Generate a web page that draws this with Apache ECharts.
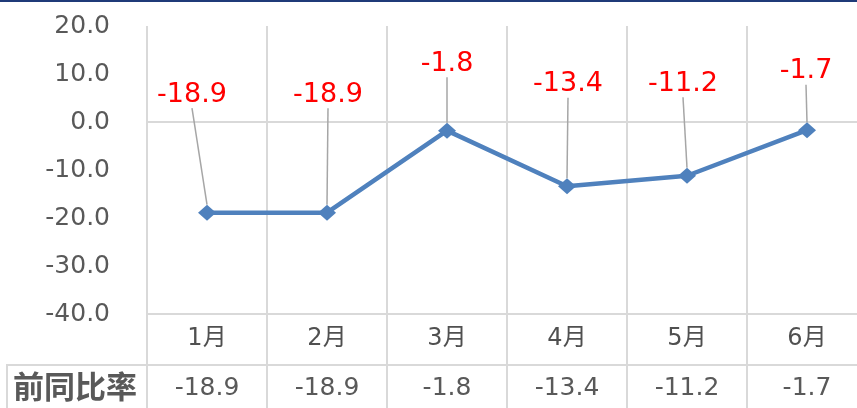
<!DOCTYPE html>
<html>
<head>
<meta charset="utf-8">
<script src="https://cdn.jsdelivr.net/npm/echarts@6/dist/echarts.min.js"></script>
<style>
html,body{margin:0;padding:0;background:#fff;}
#c{width:857px;height:408px;}
</style>
</head>
<body>
<div id="c"></div>
<script>
// ---- data ----
var categories = ['1月', '2月', '3月', '4月', '5月', '6月'];
var values = [-18.9, -18.9, -1.8, -13.4, -11.2, -1.7];
var rowTitle = '前同比率';
var yTicks = [-40, -30, -20, -10, 0, 10, 20];

// label placement (pixel offsets of label centre from the marker)
var labelDx = [-15, 1, 0, 1, -4, -1];
var labelDy = [-118, -118, -67, -102, -92, -59];

var FONT = "'DejaVu Sans', 'Noto Sans CJK SC', sans-serif";
var GRID_COLOR = '#D9D9D9';
var TEXT_COLOR = '#595959';

var chart = echarts.init(document.getElementById('c'));
var option = {
  animation: false,
  grid: { left: 147, top: 26, width: 720, height: 288, containLabel: false, outerBoundsMode: 'none' },
  xAxis: [
    {
      type: 'category', data: categories,
      axisLine: { onZero: true, lineStyle: { color: GRID_COLOR, width: 2 } },
      axisTick: { show: false }, axisLabel: { show: false },
      splitLine: { show: true, lineStyle: { color: GRID_COLOR, width: 2 } }
    },
    {
      type: 'category', data: categories, position: 'bottom',
      axisLine: { onZero: false, show: true, lineStyle: { color: GRID_COLOR, width: 2 } },
      axisTick: { show: true, length: 94, lineStyle: { color: GRID_COLOR, width: 2 } },
      axisLabel: { margin: 13, fontSize: 24, color: '#505050', fontFamily: FONT },
      splitLine: { show: false }
    },
    {
      type: 'category', data: values.map(function (v) { return v.toFixed(1); }), position: 'bottom', offset: 51,
      axisLine: { onZero: false, show: true, lineStyle: { color: GRID_COLOR, width: 2 } },
      axisTick: { show: false },
      axisLabel: { margin: 11, fontSize: 25, color: TEXT_COLOR, fontFamily: FONT },
      splitLine: { show: false }
    }
  ],
  yAxis: {
    type: 'value', min: yTicks[0], max: yTicks[yTicks.length - 1], interval: 10,
    axisLine: { show: false }, axisTick: { show: false },
    splitLine: { show: false },
    axisLabel: {
      margin: 37, fontSize: 25, color: TEXT_COLOR, fontFamily: FONT,
      formatter: function (v) { return v.toFixed(1); }
    }
  },
  series: [{
    type: 'line', xAxisIndex: 0, data: values,
    symbol: 'diamond', symbolSize: [18, 16],
    itemStyle: { color: '#4F81BD' },
    lineStyle: { color: '#4F81BD', width: 4.5 },
    label: {
      show: true, color: '#FF0000', fontSize: 27, fontFamily: FONT,
      formatter: function (p) { return p.value.toFixed(1); }
    },
    labelLine: { show: true, lineStyle: { color: '#A6A6A6', width: 1.5 } },
    labelLayout: function (p) {
      var i = p.dataIndex;
      return {
        x: p.rect.x + p.rect.width / 2 + labelDx[i],
        y: p.rect.y + p.rect.height / 2 + labelDy[i],
        align: 'center', verticalAlign: 'middle'
      };
    }
  }],
  graphic: [
    { type: 'rect', shape: { x: 0, y: 0, width: 857, height: 2 }, style: { fill: '#1F3A78' } },
    { type: 'line', shape: { x1: 7, y1: 365, x2: 148, y2: 365 }, style: { stroke: GRID_COLOR, lineWidth: 2 } },
    { type: 'line', shape: { x1: 7, y1: 364, x2: 7, y2: 408 }, style: { stroke: GRID_COLOR, lineWidth: 2 } },
    { type: 'text', x: 75, y: 386, style: { text: rowTitle, fontSize: 31, fontWeight: 'bold', fill: TEXT_COLOR, fontFamily: "'Noto Sans CJK SC', sans-serif", align: 'center', verticalAlign: 'middle' } }
  ]
};
chart.setOption(option);
</script>
</body>
</html>
